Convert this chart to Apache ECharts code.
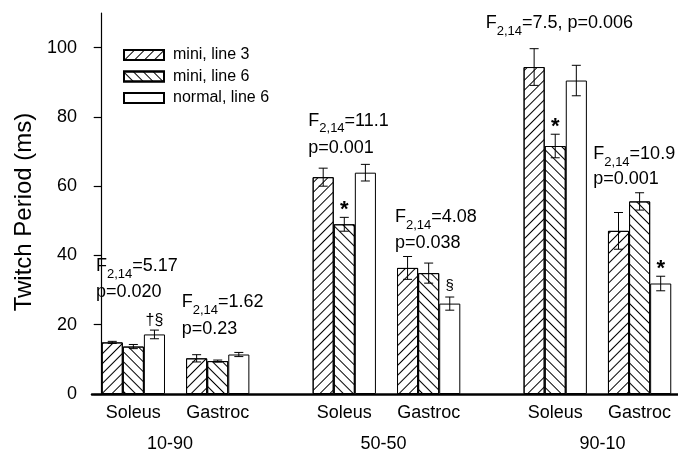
<!DOCTYPE html>
<html><head><meta charset="utf-8">
<script src="https://cdn.jsdelivr.net/npm/echarts@6/dist/echarts.min.js"></script>
<style>html,body{margin:0;padding:0;background:#fff}#c{width:678px;height:453px}</style>
</head><body><div id="c"></div>
<script>
// ---- data ----
const categories = ['Soleus', 'Gastroc', 'Soleus', 'Gastroc', 'Soleus', 'Gastroc'];
const protocols = ['10-90', '50-50', '90-10'];
const seriesNames = ['mini, line 3', 'mini, line 6', 'normal, line 6'];
const mini3 = [14.9, 10.3, 62.6, 36.4, 94.4, 47.1];
const mini3Err = [0.3, 1.05, 2.6, 3.3, 5.3, 5.3];
const mini6 = [13.7, 9.5, 49.0, 34.9, 71.6, 55.6];
const mini6Err = [0.6, 0.3, 2.0, 2.9, 3.4, 2.5];
const normal6 = [17.2, 11.4, 63.9, 26.1, 90.5, 31.9];
const normal6Err = [1.25, 0.6, 2.4, 1.9, 4.4, 2.1];
const mini3Marks = ['', '', '', '', '', ''];
const mini6Marks = ['', '', '*', '', '*', ''];
const normal6Marks = ['†§', '', '', '§', '', '*'];
const fStats = ['5.17', '1.62', '11.1', '4.08', '7.5', '10.9'];
const pValues = ['0.020', '0.23', '0.001', '0.038', '0.006', '0.001'];
const yTicks = [0, 20, 40, 60, 80, 100];
const yTitle = 'Twitch Period (ms)';

// ---- layout ----
const FONT = "'Liberation Sans', Arial, Helvetica, sans-serif";
const groupStart = g => Math.floor(g / 2) * 10 + (g % 2) * 4; // in bar-width units
const barX = (g, s) => groupStart(g) + s + 0.5;
const groupCenters = categories.map((c, g) => groupStart(g) + 1.5);
const protocolCenters = [3.24, 13.36, 23.74];

const values = [mini3, mini6, normal6];
const errs = [mini3Err, mini6Err, normal6Err];
const marks = [mini3Marks, mini6Marks, normal6Marks];

const decals = [
  { symbol: 'rect', symbolSize: 1, dashArrayX: [1, 0], dashArrayY: [0.7, 5.3], rotation: -Math.PI / 4, color: '#000' },
  { symbol: 'rect', symbolSize: 1, dashArrayX: [1, 0], dashArrayY: [0.7, 5.3], rotation: Math.PI / 4, color: '#000' },
  null
];

const series = values.map((vals, s) => ({
  type: 'bar', name: seriesNames[s],
  barWidth: 21.1, barGap: '-100%',
  data: vals.map((v, g) => [barX(g, s), v]),
  itemStyle: { color: '#fff', borderColor: '#000', borderWidth: 1, decal: decals[s] || undefined },
  emphasis: { disabled: true },
  animation: false
}));

const errData = [];
const errMarks = [];
values.forEach((vals, s) => vals.forEach((v, g) => {
  errData.push([barX(g, s), v, errs[s][g]]);
  errMarks.push(marks[s][g]);
}));

series.push({
  type: 'custom', z: 10, animation: false, silent: true,
  data: errData,
  encode: { x: 0, y: 1 },
  renderItem(params, api) {
    const x = api.value(0), v = api.value(1), e = api.value(2);
    const top = api.coord([x, v + e]);
    const bot = api.coord([x, v - e]);
    const cw = 4.5;
    const ls = { stroke: '#000', lineWidth: 1 };
    const children = [
      { type: 'line', shape: { x1: top[0], y1: top[1], x2: bot[0], y2: bot[1] }, style: ls },
      { type: 'line', shape: { x1: top[0] - cw, y1: top[1], x2: top[0] + cw, y2: top[1] }, style: ls },
      { type: 'line', shape: { x1: bot[0] - cw, y1: bot[1], x2: bot[0] + cw, y2: bot[1] }, style: ls }
    ];
    const m = errMarks[params.dataIndex];
    if (m) {
      let font = '15px ' + FONT, off = 11;
      if (m === '*') { font = 'bold 22px ' + FONT; off = 7; }
      else if (m.length > 1) { font = '16px ' + FONT; off = 10; }
      children.push({ type: 'text', style: { text: m, x: top[0], y: top[1] - off, align: 'center', verticalAlign: 'middle', font: font, fill: '#000' } });
    }
    return { type: 'group', children };
  }
});

// annotations (F statistics) - built from text pieces
const ctx = document.createElement('canvas').getContext('2d');
const mainFont = '18px ' + FONT, subFont = '13px ' + FONT;
function tw(t, f) { ctx.font = f; return ctx.measureText(t).width; }
const annPos = [
  [96, 266.5, 292.5], [181.7, 302.5, 329.5], [308.3, 120.8, 148],
  [395, 217.5, 243.5], [485.7, 23, null], [593.3, 154, 179.5]
];
const graphic = [];
function addText(t, x, y, font) {
  graphic.push({ type: 'text', x: x, y: y, silent: true, style: { text: t, font: font, fill: '#000', align: 'left', verticalAlign: 'middle' } });
}
annPos.forEach((p, g) => {
  let x = p[0];
  addText('F', x, p[1], mainFont); x += tw('F', mainFont);
  addText('2,14', x, p[1] + 8, subFont); x += tw('2,14', subFont);
  addText('=' + fStats[g] + (p[2] == null ? ', p=' + pValues[g] : ''), x, p[1], mainFont);
  if (p[2] != null) addText('p=' + pValues[g], p[0], p[2], mainFont);
});
graphic.push({ type: 'text', x: 24, y: 212, rotation: Math.PI / 2, silent: true,
  style: { text: yTitle, font: '24px ' + FONT, fill: '#000', align: 'center', verticalAlign: 'middle' } });

const option = {
  backgroundColor: '#fff',
  animation: false,
  textStyle: { fontFamily: FONT },
  grid: { left: 92, right: 0, top: 13, bottom: 56 },
  legend: {
    orient: 'vertical', left: 118, top: 42, itemWidth: 40, itemHeight: 10, itemGap: 5.5,
    icon: 'rect', selectedMode: false, data: seriesNames,
    textStyle: { fontSize: 16, color: '#000', fontFamily: FONT, padding: [0, 0, 0, 4] }
  },
  xAxis: [
    {
      type: 'value', min: -0.46, max: 27.32, position: 'bottom',
      axisLine: { show: true, onZero: false, lineStyle: { color: '#000', width: 2.5 } },
      axisTick: { show: false }, splitLine: { show: false },
      axisLabel: {
        customValues: groupCenters, margin: 10, fontSize: 18, color: '#000', fontFamily: FONT,
        formatter: v => { let b = 0; groupCenters.forEach((c, i) => { if (Math.abs(c - v) < Math.abs(groupCenters[b] - v)) b = i; }); return categories[b]; }
      }
    },
    {
      type: 'value', min: -0.46, max: 27.32, position: 'bottom',
      axisLine: { show: false }, axisTick: { show: false }, splitLine: { show: false },
      axisLabel: {
        customValues: protocolCenters, margin: 41, fontSize: 18, color: '#000', fontFamily: FONT,
        formatter: v => { let b = 0; protocolCenters.forEach((c, i) => { if (Math.abs(c - v) < Math.abs(protocolCenters[b] - v)) b = i; }); return protocols[b]; }
      }
    }
  ],
  yAxis: {
    type: 'value', min: 0, max: 110,
    axisLine: { show: true, lineStyle: { color: '#000', width: 1.2 } },
    axisTick: { show: true, inside: false, length: 8, customValues: yTicks, lineStyle: { color: '#000', width: 1.2 } },
    axisLabel: { customValues: yTicks, margin: 15, fontSize: 18, color: '#000', fontFamily: FONT },
    splitLine: { show: false }
  },
  series,
  graphic
};

const chart = echarts.init(document.getElementById('c'), null, { renderer: 'canvas' });
chart.setOption(option);
</script>
</body></html>
